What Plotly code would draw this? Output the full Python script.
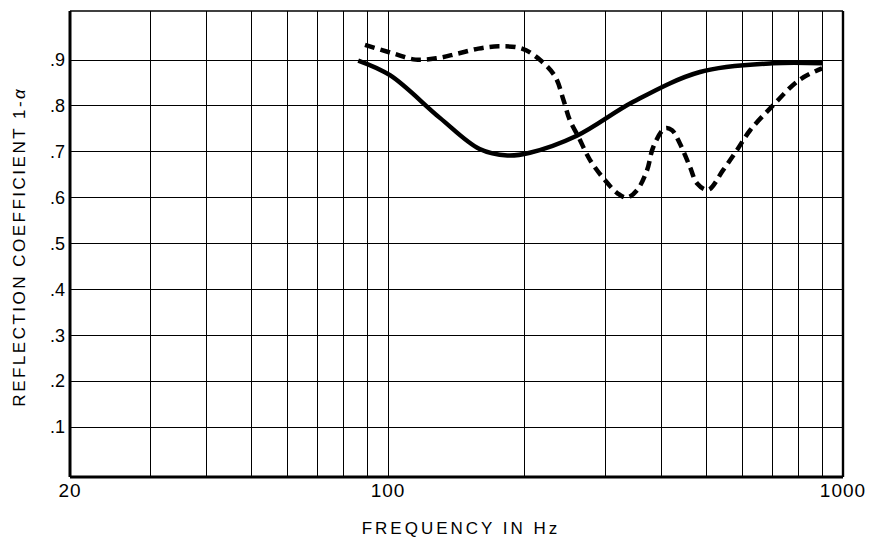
import plotly.graph_objects as go

# Frequency grid (Hz) and tick labels
grid_freqs = [20, 30, 40, 50, 60, 70, 80, 90, 100,
              200, 300, 400, 500, 600, 700, 800, 900, 1000]
freq_labels = {20: "20", 100: "100", 1000: "1000"}

coef_ticks = [0.1, 0.2, 0.3, 0.4, 0.5, 0.6, 0.7, 0.8, 0.9]
coef_labels = [".1", ".2", ".3", ".4", ".5", ".6", ".7", ".8", ".9"]

# Solid curve
solid_f = [86, 101, 130, 159, 183, 205, 260, 346, 485, 700, 900]
solid_v = [0.899, 0.867, 0.774, 0.706, 0.692, 0.698, 0.735, 0.809, 0.874, 0.893, 0.893]

# Dashed curve
dashed_f = [89, 103, 115, 128, 142, 158, 175, 197, 216, 233, 243, 251, 262, 278, 297, 320,
            335, 353, 371, 383, 406, 421, 438, 461, 478, 505, 545, 585, 625, 700, 800, 900]
dashed_v = [0.933, 0.914, 0.901, 0.904, 0.914, 0.925, 0.930, 0.925, 0.900, 0.864, 0.813,
            0.769, 0.733, 0.682, 0.643, 0.609, 0.600, 0.617, 0.660, 0.711, 0.751, 0.747,
            0.718, 0.667, 0.631, 0.617, 0.660, 0.704, 0.747, 0.800, 0.856, 0.882]

FONT = "Liberation Sans, Arial, Helvetica, sans-serif"

fig = go.Figure()
fig.add_trace(go.Scatter(x=solid_f, y=solid_v, mode="lines",
                         line=dict(color="black", width=4.5, shape="spline", smoothing=1.0),
                         showlegend=False, hoverinfo="skip"))
fig.add_trace(go.Scatter(x=dashed_f, y=dashed_v, mode="lines",
                         line=dict(color="black", width=4.5, shape="spline", smoothing=1.0,
                                   dash="10px,6px"),
                         showlegend=False, hoverinfo="skip"))

fig.update_xaxes(type="log", range=[1.30103, 3.0], automargin=False,
                 tickvals=grid_freqs,
                 ticktext=[freq_labels.get(f, "") for f in grid_freqs],
                 showgrid=True, gridcolor="black", gridwidth=1.2,
                 showline=False, zeroline=False, ticks="",
                 tickfont=dict(family=FONT, size=19, color="black"))
fig.update_yaxes(range=[-0.009, 1.007], automargin=False,
                 tickvals=coef_ticks, ticktext=coef_labels,
                 showgrid=True, gridcolor="black", gridwidth=1.2,
                 showline=False, zeroline=False, ticks="",
                 ticklabelstandoff=4,
                 tickfont=dict(family=FONT, size=18, color="black"))

# Frame: heavy left and bottom edges, lighter top and right
frame = [
    dict(x0=0, x1=0, y0=0, y1=1, w=3),
    dict(x0=0, x1=1, y0=0, y1=0, w=3),
    dict(x0=0, x1=1, y0=1, y1=1, w=1.6),
    dict(x0=1, x1=1, y0=0, y1=1, w=2.4),
]
for s in frame:
    fig.add_shape(type="line", xref="paper", yref="paper",
                  x0=s["x0"], x1=s["x1"], y0=s["y0"], y1=s["y1"],
                  line=dict(color="black", width=s["w"]))

fig.add_annotation(text="FREQUENCY IN Hz", xref="paper", yref="paper",
                   x=0.5, y=0, yanchor="middle", xanchor="center", yshift=-51, xshift=4,
                   width=240, height=18, showarrow=False,
                   font=dict(family=FONT, size=17, color="black"))
fig.add_annotation(text="REFLECTION COEFFICIENT 1-<i>α</i>", xref="paper", yref="paper",
                   x=0, y=0.5, xanchor="center", yanchor="middle", xshift=-51, yshift=-2,
                   width=380, height=20, textangle=-90, showarrow=False,
                   font=dict(family=FONT, size=17, color="black"))

fig.update_layout(width=869, height=537,
                  margin=dict(l=70, r=26, t=11, b=60, autoexpand=False),
                  paper_bgcolor="white", plot_bgcolor="white")

# Wider tracking on the axis captions, as on the printed chart
spacing_js = """
document.querySelectorAll('.annotation-text').forEach(function(t){
  var s = t.textContent.indexOf('REFLECTION') === 0 ? '2.5px' : '3px';
  t.style.letterSpacing = s;
  t.setAttribute('letter-spacing', s);
});
document.querySelectorAll('.xtick text').forEach(function(t){t.style.letterSpacing='1px';});
"""
fig.write_html("out.html", post_script=spacing_js)
